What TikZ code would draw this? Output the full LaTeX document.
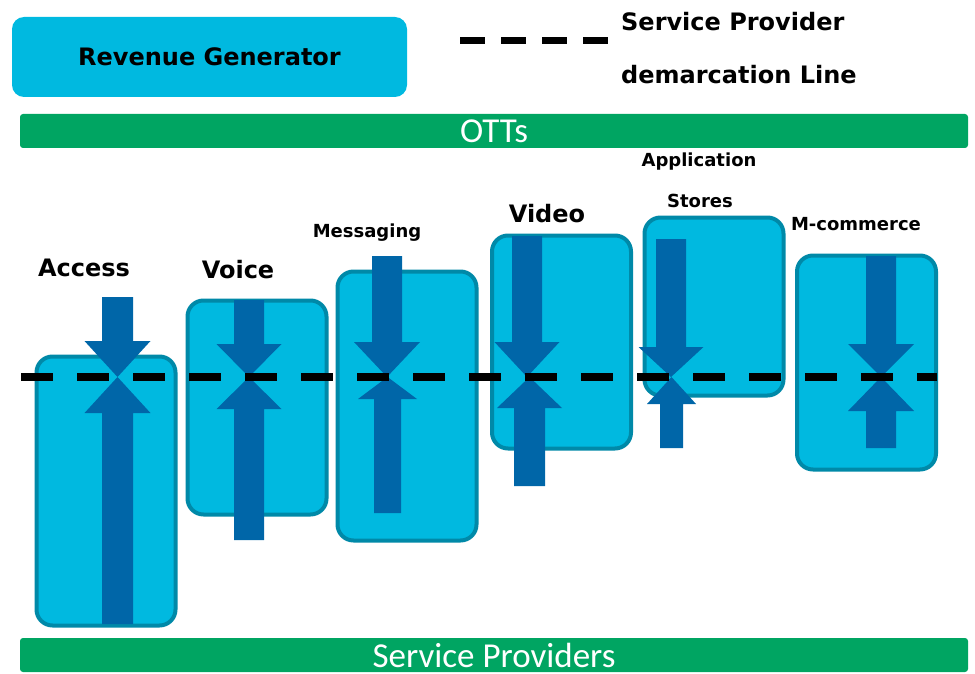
\documentclass[tikz,border=0pt]{standalone}
\usepackage{fontspec}
\setmainfont{DejaVu Sans}
\newfontfamily\barfont{Carlito}
\definecolor{boxfill}{HTML}{00B9E0}
\definecolor{boxline}{HTML}{0089A8}
\definecolor{arrowc}{HTML}{0066A8}
\definecolor{barc}{HTML}{00A562}
\newcommand\dnarr[5]{\fill[arrowc] ({#1-#4},#2) -- ({#1+#4},#2) -- ({#1+#4},#3) -- ({#1+#5},#3) -- (#1,377) -- ({#1-#5},#3) -- ({#1-#4},#3) -- cycle;}
\newcommand\uparr[5]{\fill[arrowc] ({#1-#4},#2) -- ({#1+#4},#2) -- ({#1+#4},#3) -- ({#1+#5},#3) -- (#1,377) -- ({#1-#5},#3) -- ({#1-#4},#3) -- cycle;}
\begin{document}
\begin{tikzpicture}[x=1pt,y=-1pt,
  svcbox/.style={draw=boxline, fill=boxfill, line width=4pt, rounded corners=16pt, minimum width=139pt, inner sep=0pt},
  bar/.style={fill=barc, rounded corners=3pt, minimum width=948pt, minimum height=34pt, inner sep=0pt, text=white, font=\barfont\fontsize{35}{35}\selectfont},
  lbl/.style={font=\bfseries\fontsize{24}{24}\selectfont, inner sep=0pt},
  slbl/.style={font=\bfseries\fontsize{18}{18}\selectfont, inner sep=0pt},
  demarc/.style={line width=8pt, dash pattern=on 32pt off 24pt}]
\useasboundingbox (0,0) rectangle (975,674);
% legend
\node[fill=boxfill, rounded corners=12pt, minimum width=395pt, minimum height=80pt, inner sep=0pt, font=\bfseries\fontsize{24}{24}\selectfont] (rev) at (209.5,57) {Revenue Generator};
\coordinate (l1) at (460,41);
\coordinate (l2) at (608,41);
\draw[line width=7pt, dash pattern=on 25pt off 16pt] (l1) -- (l2);
\node[anchor=west, lbl] (sp1) at (621,22) {Service Provider};
\node[anchor=west, lbl] (sp2) at (621,75) {demarcation Line};
% bars
\node[bar] (ott) at (494,131) {OTTs};
\node[bar] (spb) at (494,655) {Service Providers};
% boxes
\node[svcbox, minimum height=269pt] (access) at (106,491) {};
\node[svcbox, minimum height=214pt] (voice) at (257,407.5) {};
\node[svcbox, minimum height=269pt] (msg) at (407,406) {};
\node[svcbox, minimum height=213pt] (video) at (561.5,342) {};
\node[svcbox, minimum height=178pt] (stores) at (714,306.5) {};
\node[svcbox, minimum height=214pt] (mcom) at (866.5,362.5) {};
% arrows
\dnarr{117.5}{297}{341}{15.5}{33}
\uparr{117.5}{624}{413}{15.5}{33}
\dnarr{249}{300}{344}{15}{32.5}
\uparr{249}{540}{409}{15}{32.5}
\dnarr{387}{256}{342}{15}{33}
\uparr{387.5}{513}{399}{13.5}{29.5}
\dnarr{527}{236}{342}{15}{32.5}
\uparr{529.5}{486}{408}{15.5}{32.5}
\dnarr{671}{239}{347}{15}{32.5}
\uparr{671.5}{448}{404}{11.5}{24.5}
\dnarr{881}{256}{344}{15}{33}
\uparr{881}{448}{411}{15}{33}
% demarcation line
\coordinate (d1) at (21,377);
\coordinate (d2) at (937,377);
\draw[demarc] (d1) -- (d2);
% labels
\node[lbl] (taccess) at (84,268) {Access};
\node[lbl] (tvoice) at (238,270) {Voice};
\node[slbl] (tmsg) at (367,233) {Messaging};
\node[lbl] (tvideo) at (547,214) {Video};
\node[slbl] (tapp) at (699,162) {Application};
\node[slbl] (tstores) at (700,201) {Stores};
\node[slbl] (tmcom) at (856,224) {M-commerce};
\end{tikzpicture}
\end{document}
